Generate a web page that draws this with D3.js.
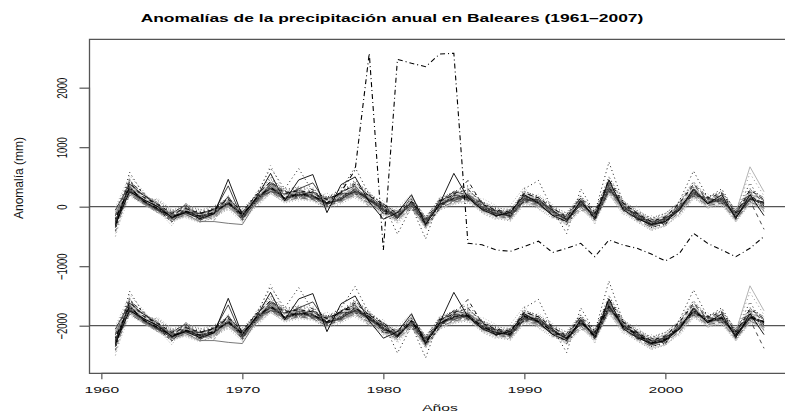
<!DOCTYPE html>
<html><head><meta charset="utf-8">
<script src="https://cdn.jsdelivr.net/npm/d3@7"></script>
<style>html,body{margin:0;padding:0;background:#fff;}svg{display:block;}</style>
</head><body>
<svg id="chart" width="785" height="414"></svg>
<script>
const years = [1961,1962,1963,1964,1965,1966,1967,1968,1969,1970,1971,1972,1973,1974,1975,1976,1977,1978,1979,1980,1981,1982,1983,1984,1985,1986,1987,1988,1989,1990,1991,1992,1993,1994,1995,1996,1997,1998,1999,2000,2001,2002,2003,2004,2005,2006,2007];
const xTicks = [1960,1970,1980,1990,2000];
const yTicks = [-2000,-1000,0,1000,2000];
const refLines = [0,-2000];
const lowerOffset = -2000;
const titleText = "Anomalías de la precipitación anual en Baleares (1961–2007)";
const xTitle = "Años";
const yTitle = "Anomalía (mm)";

// station anomaly series (mm), 1961-2007
const s01 = [-300,250,120,0,-180,-100,-200,-120,460,-150,150,560,100,450,540,-100,370,500,80,-210,-100,200,-300,50,560,150,-50,-150,-100,200,60,-150,-250,100,-200,450,-50,-200,-300,-250,-50,300,50,200,-200,200,-150];
const s02 = [-250,350,80,-50,-200,-60,-180,-80,350,-200,100,400,200,300,400,50,250,350,100,-50,-200,80,-300,80,250,200,-30,-120,-150,180,100,-60,-220,80,-180,400,20,-180,-320,-250,-20,280,60,150,-180,120,80];
const s03 = [-150,420,150,30,-120,-40,-120,-60,100,-120,180,420,250,250,200,120,200,420,180,0,-180,40,-280,100,200,300,50,-80,-100,220,150,-40,-300,120,-120,380,50,-120,-250,-180,50,350,120,200,-120,250,100];
const s04 = [-400,580,200,0,-250,-20,-100,-40,150,-100,200,650,300,640,250,150,300,660,200,50,-460,0,-540,120,250,350,80,-80,-150,300,440,-50,-450,300,-100,750,80,-100,-350,-300,100,600,150,300,-100,400,0];
const s05 = [-120,250,60,-30,-160,-120,-160,-140,50,-180,110,280,120,180,150,40,120,220,100,-60,-140,40,-240,30,120,160,-20,-120,-150,120,60,-100,-180,40,-160,300,-20,-160,-260,-200,-50,220,60,100,-160,150,60];
const s06 = [-200,300,120,10,-130,-50,-170,-110,60,-140,150,300,170,200,180,80,160,300,150,-20,-160,80,-250,40,140,220,30,-90,-110,170,80,-70,-200,70,-140,320,10,-140,-270,-210,-10,260,90,130,-140,170,60];
const s07 = [-350,200,50,-80,-220,-140,-220,-160,20,-220,60,250,100,150,120,0,100,200,60,-100,-220,0,-330,-20,80,120,-60,-160,-200,80,20,-120,-260,0,-220,250,-60,-220,-350,-280,-100,180,20,60,-220,80,-20];
const s08 = [-100,380,140,20,-100,-60,-120,-80,120,-100,160,380,200,260,220,100,180,320,160,20,-120,100,-200,80,180,220,40,-60,-100,200,120,-40,-160,100,-100,380,40,-100,-220,-160,20,300,120,180,-100,670,250];
const s09 = [-50,450,180,50,-80,0,-80,-20,140,-80,220,500,260,320,260,140,240,450,220,40,-100,120,-180,120,220,280,80,-40,-80,250,180,0,-150,180,-80,500,80,-80,-200,-120,80,420,160,250,-60,300,150];
const s10 = [-280,280,90,-40,-170,-90,-150,-120,70,-170,120,310,140,210,170,50,140,260,120,-40,-160,50,-280,40,140,170,-10,-110,-140,140,70,-90,-210,50,-160,320,-10,-150,-290,-230,-40,240,70,120,-160,140,40];
const s11 = [-180,320,100,-10,-140,-70,-140,-90,90,-130,140,350,160,230,190,70,160,290,140,-20,-140,70,-250,60,160,190,10,-90,-120,160,90,-70,-190,70,-140,340,10,-140,-270,-210,-20,260,90,140,-140,160,60];
const s12 = [-230,260,70,-60,-190,-110,-190,-150,40,-200,90,280,110,170,140,20,110,230,90,-70,-190,20,-300,10,100,140,-40,-140,-180,100,40,-110,-240,20,-200,280,-40,-200,-320,-260,-70,200,40,90,-200,100,-380];
const s13 = [-500,350,130,0,-120,-30,-100,-60,110,-110,170,700,220,280,240,110,220,380,170,30,-110,90,-220,90,190,260,60,-60,-90,230,140,-30,-170,110,-90,420,60,-90,-220,-150,50,360,130,220,-80,560,180];
const s14 = [-150,230,60,-60,-200,-130,-250,-250,-280,-300,80,260,130,190,160,40,130,250,110,-50,-170,40,-270,30,130,150,-30,-130,-160,130,60,-100,-220,40,-170,290,-30,-170,-300,-240,-60,230,60,110,-170,130,50];
const s15 = [-80,200,40,-100,-240,-160,-260,-180,0,-230,40,220,80,140,110,-20,90,180,40,-120,-240,-20,-360,-40,60,100,-80,-180,-220,60,0,-140,-300,-20,-240,220,-80,-240,-380,-320,-120,160,0,40,-240,60,-40];
const s16 = [-260,330,110,10,-150,-90,-160,-100,90,-150,130,340,150,240,190,60,150,280,130,-30,-150,60,-260,50,150,180,0,-100,-130,150,80,-80,-200,60,-150,330,0,-150,-280,-220,-30,250,80,130,-150,150,50];
const s17 = [-320,400,160,40,-110,-30,-110,-50,130,-90,200,420,220,270,230,120,230,380,180,40,-120,90,-210,90,200,440,40,-60,-90,230,150,-20,-180,150,-110,450,60,-110,-250,-170,60,380,140,230,-110,280,120];
const s18 = [-220,270,80,-30,-170,-100,-170,-110,60,-160,120,300,140,200,160,50,140,260,120,-40,-160,50,-260,40,130,170,-10,-110,-140,140,70,-90,-210,50,-160,310,-10,-160,-290,-230,-40,240,70,120,-160,140,40];
const s19 = [-350,420,230,-40,-260,-10,-210,-20,130,-230,170,300,260,150,290,20,230,210,200,-120,-90,130,-330,-30,230,110,80,-170,-60,80,160,-150,-130,140,-230,260,90,-220,-210,-300,40,180,160,60,-80,220,-30];
const s20 = [-120,260,60,90,-80,-140,-90,-170,-20,-60,30,420,100,300,120,170,60,360,40,60,-230,-20,-190,130,60,260,-90,-30,-210,230,0,-10,-280,-20,-80,410,-80,-80,-360,-140,-120,330,0,210,-230,80,130];
const s21 = [-260,300,110,-70,-110,30,-230,-110,170,-180,150,250,220,280,130,140,210,240,190,-80,-100,20,-300,110,100,200,60,-160,-90,190,40,-140,-170,110,-190,290,60,-190,-240,-260,20,210,130,90,-110,190,10];
const s22 = [-60,380,190,40,-190,-80,-120,-40,40,-110,80,380,140,190,250,50,120,300,100,20,-190,90,-220,0,190,150,-40,-70,-170,110,120,-60,-230,30,-120,360,-30,-120,-300,-190,-60,280,50,150,-170,130,70];
const s23 = [-420,330,70,0,-230,-100,-180,-130,90,-200,120,330,200,240,170,110,180,260,150,-60,-170,50,-290,80,130,210,20,-120,-120,160,90,-100,-210,70,-160,320,20,-170,-290,-240,-40,240,90,120,-150,160,40];
const s24 = [-150,450,160,110,-60,20,-60,10,150,-40,200,460,290,330,300,160,250,400,230,50,-80,150,-170,140,250,280,90,-20,-50,260,170,10,-110,170,-60,450,100,-60,-190,-110,70,380,170,240,-50,280,150];
const s25 = [-300,220,30,-100,-250,-170,-260,-190,-40,-260,10,230,60,120,90,-40,50,170,20,-140,-260,-40,-370,-60,40,80,-100,-200,-240,40,-30,-170,-310,-40,-260,200,-110,-260,-400,-330,-140,140,-20,20,-260,40,-60];
const s26 = [-200,290,210,-20,-140,-90,-110,-60,30,-90,140,310,120,260,150,40,160,330,90,10,-140,80,-240,20,170,140,30,-110,-100,130,100,-70,-180,80,-140,300,10,-130,-260,-200,-10,230,110,110,-130,120,70];
const s27 = [-90,400,80,50,-170,-30,-170,-100,100,-160,90,390,150,170,230,90,140,290,170,-40,-120,40,-280,60,160,220,-20,-90,-140,170,70,-90,-190,50,-170,350,-10,-160,-270,-230,-50,270,70,140,-160,170,30];
const s28 = [-330,320,120,-50,-200,-120,-200,-150,20,-190,60,280,210,180,160,30,130,250,80,-80,-180,10,-250,30,110,160,-40,-140,-160,120,50,-120,-240,30,-190,280,-50,-190,-320,-260,-70,200,40,80,-190,110,-10];
const s29 = [-10,520,260,-60,-320,40,-40,-170,200,-260,250,480,80,340,110,230,60,410,260,-160,-20,210,-380,170,40,330,-110,-220,20,330,-40,-200,-90,190,-300,510,120,-240,-150,-330,110,420,-40,280,-250,310,-100];
const s30 = [-450,170,40,140,-40,-190,-270,20,-60,-30,-20,220,320,90,330,-70,280,140,10,110,-290,-60,-170,-70,280,40,140,20,-250,40,210,40,-320,-70,-50,220,-140,20,-400,-110,-170,130,220,0,-50,20,190];
const s31 = [-280,470,50,-100,-80,-120,-110,-230,110,-90,190,410,270,170,260,-30,200,330,-10,60,-200,170,-190,-50,240,90,60,-60,-200,230,140,-180,-260,-60,-120,390,30,-230,-200,-310,10,330,40,180,-170,250,-80];
const s32 = [-150,300,200,70,-220,60,-200,-40,-10,-200,40,290,130,310,140,150,80,230,210,-120,-60,-30,-330,120,90,240,-60,-150,-40,100,10,-30,-150,140,-200,280,-70,-100,-340,-180,20,170,150,70,-110,200,120];
// inhomogeneous station: raw and corrected
const outlierRaw = [-200,320,90,-30,-170,-80,-160,-100,70,-140,140,330,140,220,180,60,250,617,2578,-728,2477,2410,2353,2566,2578,-615,-640,-728,-750,-670,-580,-770,-700,-616,-840,-560,-644,-700,-795,-913,-784,-448,-616,-728,-840,-700,-500];
const outlierFixed = [-200,320,90,-30,-170,-80,-160,-100,70,-140,140,330,140,220,180,60,250,300,150,-40,-170,70,-270,40,160,170,-10,-120,-140,160,70,-90,-210,60,-170,330,-10,-150,-290,-230,-40,250,80,130,-150,150,60];

const stations = [s15,s25,s30,s07,s29,s12,s05,s28,s14,s31,s18,s10,s23,s16,s32,s06,s11,s21,s02,s26,s08,s19,s03,s20,s22,s27,s09,s24,s13,s17,s04,s01];
const styles = [
  {c:"#c4c4c4",d:null},{c:"#9a9a9a",d:"1,2"},{c:"#b5b5b5",d:"1,2"},{c:"#5a5a5a",d:"7,3"},
  {c:"#a0a0a0",d:"1,2"},{c:"#333",d:"4,4"},{c:"#7a7a7a",d:null},{c:"#a8a8a8",d:null},
  {c:"#6a6a6a",d:null},{c:"#888",d:"3,2"},{c:"#4a4a4a",d:null},{c:"#2a2a2a",d:null},
  {c:"#888",d:"4,3"},{c:"#444",d:null},{c:"#999",d:null},{c:"#111",d:"1,3,4,3"},
  {c:"#6a6a6a",d:"1,3,4,3"},{c:"#3a3a3a",d:null},{c:"#2f2f2f",d:null},{c:"#555",d:"2,2"},
  {c:"#aaa",d:null},{c:"#222",d:"3,2"},{c:"#444",d:"4,4"},{c:"#777",d:"1,2"},
  {c:"#262626",d:null},{c:"#aaa",d:"1,2"},{c:"#333",d:"1,3"},{c:"#555",d:"1,2"},
  {c:"#888",d:"1,3"},{c:"#000",d:"4,4"},{c:"#000",d:"1,3"},{c:"#000",d:null}
];

const svg = d3.select("#chart");
const x = d3.scaleLinear().domain([1959.16, 2008.84]).range([89.5, 790]);
const y = d3.scaleLinear().domain([-2800, 2813]).range([373.3, 39.3]);
const line = d3.line().x((d,i)=>x(years[i])).y(d=>y(d));
const FONT = "'Liberation Sans', Arial, Helvetica, sans-serif";

// reference lines
svg.selectAll(".ref").data(refLines).enter().append("line")
  .attr("x1", x.range()[0]).attr("x2", x.range()[1])
  .attr("y1", d=>y(d)).attr("y2", d=>y(d))
  .attr("stroke","#555").attr("stroke-width",1.2);

function drawSet(offset, extra){
  const g = svg.append("g");
  stations.forEach((s,k)=>{
    g.append("path").attr("d", line(s.map(v=>v+offset)))
      .attr("fill","none").attr("stroke", styles[k].c).attr("stroke-width",0.9)
      .attr("stroke-dasharray", styles[k].d);
  });
  g.append("path").attr("d", line(extra.map(v=>v+offset)))
    .attr("fill","none").attr("stroke","#000").attr("stroke-width",1.1)
    .attr("stroke-dasharray","1,3,5,3");
}
drawSet(0, outlierRaw);
drawSet(lowerOffset, outlierFixed);

// box
svg.append("path")
  .attr("d", `M${x.range()[1]},${y.range()[1]}H${x.range()[0]}V${y.range()[0]}H${x.range()[1]}`)
  .attr("fill","none").attr("stroke","#555").attr("stroke-width",1.3);

// axes
const ax = svg.append("g").attr("transform",`translate(0,${y.range()[0]})`)
  .call(d3.axisBottom(x).tickValues(xTicks).tickSize(6).tickSizeOuter(0).tickFormat(d3.format("d")));
ax.select(".domain").attr("d", `M${x(xTicks[0])},0H${x(xTicks[xTicks.length-1])}`).attr("stroke","#555").attr("stroke-width",1.2);
ax.selectAll(".tick line").attr("stroke","#555").attr("stroke-width",1.2);
ax.selectAll(".tick text").attr("y",0).attr("dy",0)
  .attr("transform","translate(0,20) scale(1.6,1)")
  .attr("font-family",FONT).attr("font-size","9.8px").attr("fill","#111");

const ay = svg.append("g").attr("transform",`translate(${x.range()[0]},0)`)
  .call(d3.axisLeft(y).tickValues(yTicks).tickSize(10).tickSizeOuter(0).tickFormat(d3.format("d")));
ay.select(".domain").attr("d", `M0,${y(yTicks[0])}V${y(yTicks[yTicks.length-1])}`).attr("stroke","#555").attr("stroke-width",1.2);
ay.selectAll(".tick line").attr("stroke","#555").attr("stroke-width",1.2);
ay.selectAll(".tick text").attr("x",0).attr("dy",0)
  .attr("text-anchor","middle")
  .attr("transform","translate(-23,0) scale(1.6,1) rotate(-90)")
  .attr("font-family",FONT).attr("font-size","9.5px").attr("fill","#111");

// titles
svg.append("text").attr("transform","translate(392,22) scale(1.6,1)")
  .attr("text-anchor","middle").attr("font-family",FONT).attr("font-weight","bold")
  .attr("font-size","10.9px").attr("fill","#000").text(titleText);
svg.append("text").attr("transform","translate(440,411) scale(1.6,1)")
  .attr("text-anchor","middle").attr("font-family",FONT)
  .attr("font-size","9.8px").attr("fill","#111").text(xTitle);
svg.append("text").attr("transform","translate(23,178) rotate(-90)")
  .attr("text-anchor","middle").attr("font-family",FONT)
  .attr("font-size","12px").attr("fill","#111").text(yTitle);
</script>
</body></html>
